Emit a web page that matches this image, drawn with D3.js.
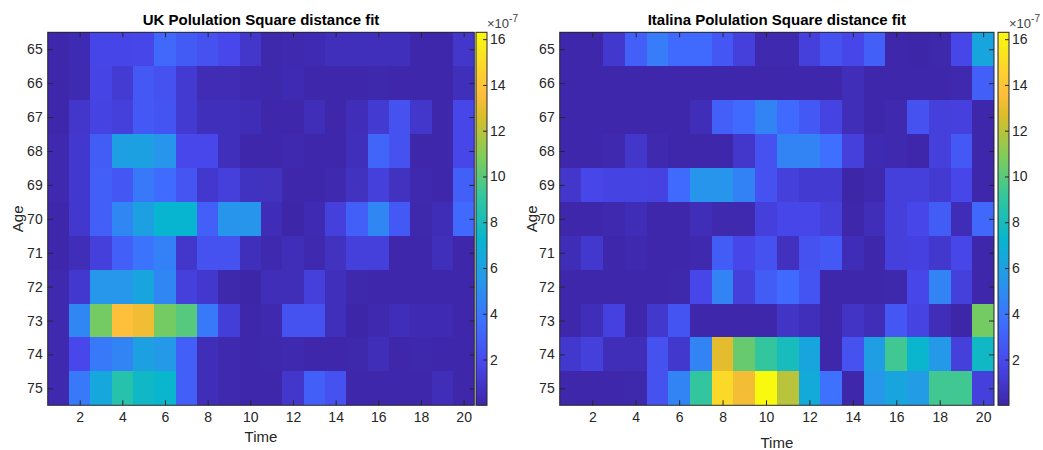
<!DOCTYPE html>
<html>
<head>
<meta charset="utf-8">
<script src="https://cdn.jsdelivr.net/npm/d3@7"></script>
<style>
  body { margin: 0; background: #fff; }
  svg text { font-family: "Liberation Sans", Arial, Helvetica, sans-serif; fill: #262626; }
</style>
</head>
<body>
<svg id="chart" width="1043" height="450"></svg>
<script>
var ages = [65, 66, 67, 68, 69, 70, 71, 72, 73, 74, 75];
var times = [1, 2, 3, 4, 5, 6, 7, 8, 9, 10, 11, 12, 13, 14, 15, 16, 17, 18, 19, 20];
var timeTicks = [2, 4, 6, 8, 10, 12, 14, 16, 18, 20];
var colorTicks = [2, 4, 6, 8, 10, 12, 14, 16];
var colorLimits = [0, 16.3];

// square distance per age (rows) and time (columns), in units of 1e-7
var ukFit = [
  [0.05, 0.3, 1.7, 1.7, 1.75, 3.3, 2.7, 2.3, 1.8, 0.95, 0.1, 0.15, 0.3, 0.5, 0.5, 0.5, 0.5, 0.05, 0.05, 0.95],
  [0.05, 0.25, 1.65, 1.15, 2.6, 2.3, 1.1, 0.35, 0.35, 0.2, 0.1, 0.3, 0.05, 0.05, 0.05, 0.1, 0.05, 0.05, 0.05, 0.5],
  [0.05, 0.95, 1.6, 1.4, 2.6, 2.4, 1.1, 0.5, 0.5, 0.4, 0.05, 0.05, 0.45, 0.05, 0.45, 1.1, 2.3, 0.95, 0.05, 1.75],
  [0.15, 1.0, 2.8, 5.95, 6.0, 5.4, 1.8, 1.8, 0.5, 0.05, 0.05, 0.2, 0.05, 0.05, 0.5, 3.1, 2.3, 0.05, 0.05, 1.75],
  [0.15, 1.0, 2.9, 2.5, 4.1, 3.5, 2.45, 1.0, 1.4, 0.7, 0.65, 0.05, 0.05, 0.15, 0.65, 1.4, 0.65, 0.2, 0.05, 2.9],
  [0.05, 1.0, 2.9, 4.7, 6.0, 7.25, 7.25, 2.9, 5.4, 5.4, 0.4, 0.0, 0.3, 1.4, 2.9, 4.7, 2.6, 0.1, 0.4, 3.4],
  [0.05, 0.45, 1.4, 2.9, 3.8, 4.4, 0.95, 2.3, 2.3, 0.5, 0.15, 0.45, 0.15, 0.65, 1.4, 1.4, 0.05, 0.05, 0.5, 0.05],
  [0.15, 1.0, 5.5, 5.5, 6.3, 4.7, 1.4, 1.0, 0.1, 0.0, 0.45, 0.45, 1.4, 0.5, 0.1, 0.05, 0.05, 0.05, 0.05, 0.05],
  [0.15, 4.7, 10.6, 13.7, 13.2, 10.6, 9.9, 4.1, 1.3, 0.05, 0.15, 2.3, 2.3, 0.5, 0.0, 0.2, 0.45, 0.3, 0.3, 0.05],
  [0.15, 1.8, 4.1, 4.6, 6.0, 5.6, 2.9, 0.45, 0.15, 0.05, 0.1, 0.15, 0.05, 0.05, 0.1, 0.45, 0.05, 0.1, 0.05, 0.05],
  [0.15, 4.1, 6.4, 8.6, 7.6, 7.3, 2.9, 0.45, 0.15, 0.05, 0.05, 0.95, 2.9, 2.3, 0.05, 0.05, 0.05, 0.05, 0.45, 0.05]
];

var itFit = [
  [0.05, 0.05, 1.0, 2.9, 4.2, 3.4, 3.4, 2.5, 1.4, 0.15, 0.15, 1.4, 2.3, 1.75, 2.9, 0.05, 0.0, 0.1, 1.75, 6.3],
  [0.05, 0.05, 0.05, 0.05, 0.05, 0.05, 0.05, 0.05, 0.05, 0.05, 0.05, 0.05, 0.05, 0.45, 0.05, 0.05, 0.05, 0.05, 0.15, 2.9],
  [0.05, 0.05, 0.05, 0.05, 0.05, 0.05, 0.45, 2.9, 3.4, 4.6, 3.4, 2.6, 1.6, 0.45, 0.05, 0.2, 2.3, 1.4, 1.45, 0.05],
  [0.05, 0.05, 0.2, 0.95, 0.15, 0.05, 0.05, 0.05, 0.95, 2.3, 4.6, 4.6, 3.6, 1.4, 0.3, 0.15, 0.05, 1.4, 2.6, 0.05],
  [0.95, 1.75, 1.6, 1.6, 1.55, 3.4, 5.4, 5.4, 4.5, 2.3, 1.4, 1.1, 1.1, 0.0, 0.15, 1.4, 1.4, 1.1, 1.75, 0.05],
  [0.05, 0.05, 0.15, 0.4, 0.05, 0.05, 0.45, 0.2, 0.15, 1.4, 1.75, 1.75, 1.4, 0.05, 0.45, 1.4, 1.75, 2.8, 0.4, 3.3],
  [0.4, 1.0, 0.05, 0.15, 0.05, 0.05, 0.15, 2.8, 1.75, 2.3, 0.6, 2.3, 2.6, 0.4, 0.05, 1.4, 1.5, 1.0, 1.75, 0.05],
  [0.05, 0.05, 0.05, 0.05, 0.05, 0.1, 1.75, 4.6, 1.4, 2.8, 3.4, 2.4, 0.05, 0.05, 0.05, 0.1, 1.75, 4.6, 1.4, 0.05],
  [0.05, 0.45, 1.5, 0.05, 1.0, 2.4, 0.05, 0.05, 0.05, 0.05, 0.8, 0.5, 0.05, 0.8, 0.45, 2.5, 1.6, 0.45, 0.0, 10.6],
  [1.0, 1.4, 0.45, 0.45, 2.3, 1.0, 4.6, 12.9, 10.3, 9.1, 8.0, 6.3, 0.05, 2.3, 5.9, 9.4, 7.3, 5.6, 1.4, 7.6],
  [0.05, 0.05, 0.05, 0.1, 2.3, 4.6, 9.1, 14.9, 13.3, 16.25, 12.0, 6.6, 3.7, 0.05, 5.5, 6.3, 5.8, 9.4, 9.4, 1.4]
];

// parula colormap
var parulaStops = [0, 0.111, 0.222, 0.333, 0.444, 0.556, 0.667, 0.778, 0.833, 0.889, 1];
var parulaColors = ["#3e26a8", "#4747eb", "#3e6fff", "#2796eb", "#08b5d0", "#31c69f",
                    "#80cc59", "#dcbd29", "#febd3c", "#fccf30", "#f9fa0e"];

var plotTop = 32.3,
  plotBottom = 405.3,
  axisColor = "#262626";

var panels = [
  { title: "UK Polulation Square distance fit", values: ukFit, left: 47.7, right: 474.3, barX: 476, ageX: 23, timeY: 442 },
  { title: "Italina Polulation Square distance fit", values: itFit, left: 559.7, right: 994, barX: 998, ageX: 537, timeY: 448 }
];

var svg = d3.select("#chart");

var color = d3.scaleLinear()
  .domain(parulaStops.map(function(s) { return colorLimits[0] + s * (colorLimits[1] - colorLimits[0]); }))
  .range(parulaColors)
  .interpolate(d3.interpolateRgb)
  .clamp(true);

// shared gradient for the colorbars
var grad = svg.append("defs").append("linearGradient")
  .attr("id", "parula")
  .attr("x1", 0).attr("y1", 1)
  .attr("x2", 0).attr("y2", 0);
grad.selectAll("stop")
  .data(parulaStops)
  .enter().append("stop")
  .attr("offset", function(d) { return d; })
  .attr("stop-color", function(d, i) { return parulaColors[i]; });

function styleAxis(g) {
  g.select(".domain").remove();
  g.selectAll(".tick line").attr("stroke", axisColor);
  g.selectAll(".tick text")
    .attr("fill", axisColor)
    .style("font-size", "14px")
    .style("font-family", "'Liberation Sans', Arial, Helvetica, sans-serif");
}

panels.forEach(function(p) {
  var g = svg.append("g");

  var x = d3.scaleLinear().domain([0.5, 20.5]).range([p.left, p.right]);
  var y = d3.scaleLinear().domain([64.5, 75.5]).range([plotTop, plotBottom]);

  var cells = [];
  ages.forEach(function(a, i) {
    times.forEach(function(t, j) {
      cells.push({ age: a, time: t, value: p.values[i][j] });
    });
  });

  g.append("g").selectAll("rect")
    .data(cells)
    .enter().append("rect")
    .attr("x", function(d) { return x(d.time - 0.5); })
    .attr("y", function(d) { return y(d.age - 0.5); })
    .attr("width", function(d) { return x(d.time + 0.5) - x(d.time - 0.5); })
    .attr("height", function(d) { return y(d.age + 0.5) - y(d.age - 0.5); })
    .attr("fill", function(d) { return color(d.value); })
    .attr("shape-rendering", "crispEdges");

  // axes, ticks pointing inward on all four sides
  g.append("g")
    .attr("transform", "translate(0," + plotBottom + ")")
    .call(d3.axisBottom(x).tickValues(timeTicks).tickSizeInner(-5).tickSizeOuter(0).tickPadding(7))
    .call(styleAxis);
  g.append("g")
    .attr("transform", "translate(0," + plotTop + ")")
    .call(d3.axisTop(x).tickValues(timeTicks).tickSizeInner(-5).tickSizeOuter(0).tickFormat(""))
    .call(styleAxis);
  g.append("g")
    .attr("transform", "translate(" + p.left + ",0)")
    .call(d3.axisLeft(y).tickValues(ages).tickSizeInner(-5).tickSizeOuter(0).tickPadding(5))
    .call(styleAxis);
  g.append("g")
    .attr("transform", "translate(" + p.right + ",0)")
    .call(d3.axisRight(y).tickValues(ages).tickSizeInner(-5).tickSizeOuter(0).tickFormat(""))
    .call(styleAxis);

  g.append("rect")
    .attr("x", p.left)
    .attr("y", plotTop)
    .attr("width", p.right - p.left)
    .attr("height", plotBottom - plotTop)
    .attr("fill", "none")
    .attr("stroke", axisColor)
    .attr("stroke-width", 1);

  g.append("text")
    .attr("x", (p.left + p.right) / 2)
    .attr("y", 25)
    .attr("text-anchor", "middle")
    .style("font-size", "15px")
    .style("font-weight", "bold")
    .attr("fill", "#000")
    .style("fill", "#000")
    .text(p.title);

  g.append("text")
    .attr("x", (p.left + p.right) / 2)
    .attr("y", p.timeY)
    .attr("text-anchor", "middle")
    .style("font-size", "15px")
    .text("Time");

  g.append("text")
    .attr("transform", "translate(" + p.ageX + "," + ((plotTop + plotBottom) / 2) + ") rotate(-90)")
    .attr("text-anchor", "middle")
    .style("font-size", "15px")
    .text("Age");

  // colorbar
  var barW = 11;
  var c = d3.scaleLinear().domain(colorLimits).range([plotBottom, plotTop]);

  g.append("rect")
    .attr("x", p.barX)
    .attr("y", plotTop)
    .attr("width", barW)
    .attr("height", plotBottom - plotTop)
    .attr("fill", "url(#parula)")
    .attr("stroke", axisColor)
    .attr("stroke-width", 1);

  g.append("g")
    .attr("transform", "translate(" + (p.barX + barW) + ",0)")
    .call(d3.axisRight(c).tickValues(colorTicks).tickSizeInner(-4).tickSizeOuter(0).tickPadding(3))
    .call(styleAxis);

  var expo = g.append("text")
    .attr("x", p.barX + barW)
    .attr("y", 28)
    .attr("fill", "#404040")
    .style("fill", "#404040")
    .style("font-size", "13px");
  expo.append("tspan").text("\u00d710");
  expo.append("tspan")
    .attr("dy", -6)
    .style("font-size", "10px")
    .text("-7");
});
</script>
</body>
</html>
